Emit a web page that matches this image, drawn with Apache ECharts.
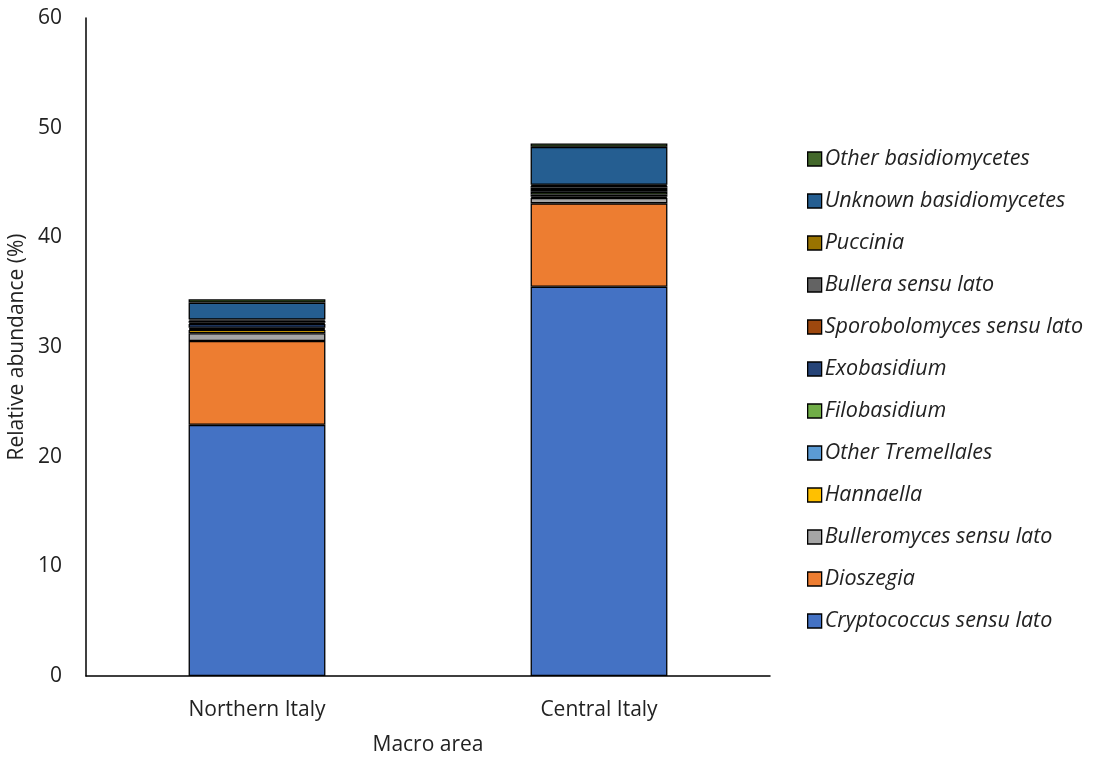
<!DOCTYPE html>
<html>
<head>
<meta charset="utf-8">
<script src="https://cdn.jsdelivr.net/npm/echarts@6/dist/echarts.min.js"></script>
<style>
html, body { margin: 0; padding: 0; background: #fff; }
#container { width: 1094px; height: 759px; }
</style>
</head>
<body>
<div id="container"></div>
<script>
// categories on x
var areas = ['Northern Italy', 'Central Italy'];

// taxa, bottom of stack first
var taxa = [
	'Cryptococcus sensu lato', 'Dioszegia', 'Bulleromyces sensu lato', 'Hannaella',
	'Other Tremellales', 'Filobasidium', 'Exobasidium', 'Sporobolomyces sensu lato',
	'Bullera sensu lato', 'Puccinia', 'Unknown basidiomycetes', 'Other basidiomycetes'
];
var colors = ['#4472C4', '#ED7D31', '#A5A5A5', '#FFC000', '#5B9BD5', '#70AD47',
	'#264478', '#9E480E', '#636363', '#997300', '#255E91', '#43682B'];

// relative abundance (%), one array per taxon: [Northern, Central]
var cryptococcus = [22.9, 35.5];
var dioszegia = [7.65, 7.6];
var bulleromyces = [0.7, 0.5];
var hannaella = [0.3, 0.1];
var otherTremellales = [0.1, 0.2];
var filobasidium = [0.1, 0.25];
var exobasidium = [0.35, 0.25];
var sporobolomyces = [0.1, 0.15];
var bullera = [0.2, 0.15];
var puccinia = [0.1, 0.1];
var unknownBasidio = [1.55, 3.45];
var otherBasidio = [0.3, 0.3];

var yTicks = [0, 10, 20, 30, 40, 50, 60];

var values = [cryptococcus, dioszegia, bulleromyces, hannaella, otherTremellales, filobasidium,
	exobasidium, sporobolomyces, bullera, puccinia, unknownBasidio, otherBasidio];

var myChart = echarts.init(document.getElementById('container'));
var font = 'Open Sans';

var series = taxa.map(function(name, i) {
	return {
		name: name,
		type: 'bar',
		stack: 'total',
		barWidth: '40%',
		itemStyle: { color: colors[i], borderColor: '#000', borderWidth: 1.3 },
		data: values[i]
	};
});

var option = {
	animation: false,
	color: colors,
	grid: { left: 86, right: 324, top: 18, bottom: 83, containLabel: false, outerBoundsMode: 'none' },
	legend: {
		orient: 'vertical',
		left: 802,
		top: 142,
		itemGap: 18,
		itemWidth: 14,
		itemHeight: 14,
		icon: 'rect',
		itemStyle: { borderColor: '#000', borderWidth: 1.3 },
		textStyle: { fontFamily: font, fontStyle: 'italic', fontSize: 21.5, lineHeight: 24, color: '#222', padding: [0, 0, 0, -2] },
		data: taxa.slice().reverse()
	},
	xAxis: {
		type: 'category',
		data: areas,
		name: 'Macro area',
		nameLocation: 'middle',
		nameGap: 59,
		nameTextStyle: { fontFamily: font, fontSize: 21, color: '#222' },
		axisLine: { lineStyle: { color: '#000', width: 1.5 } },
		axisTick: { show: false },
		axisLabel: { fontFamily: font, fontSize: 21, color: '#222', margin: 24 }
	},
	yAxis: {
		type: 'value',
		min: yTicks[0],
		max: yTicks[yTicks.length - 1],
		interval: 10,
		name: 'Relative abundance (%)',
		nameLocation: 'middle',
		nameGap: 55,
		nameTextStyle: { fontFamily: font, fontSize: 21, color: '#222' },
		axisLine: { show: true, lineStyle: { color: '#000', width: 1.5 } },
		axisTick: { show: false },
		splitLine: { show: false },
		axisLabel: { fontFamily: font, fontSize: 21, color: '#222', margin: 24 }
	},
	series: series
};

if(option && typeof option === "object") {
	myChart.setOption(option, true);
}
</script>
</body>
</html>
